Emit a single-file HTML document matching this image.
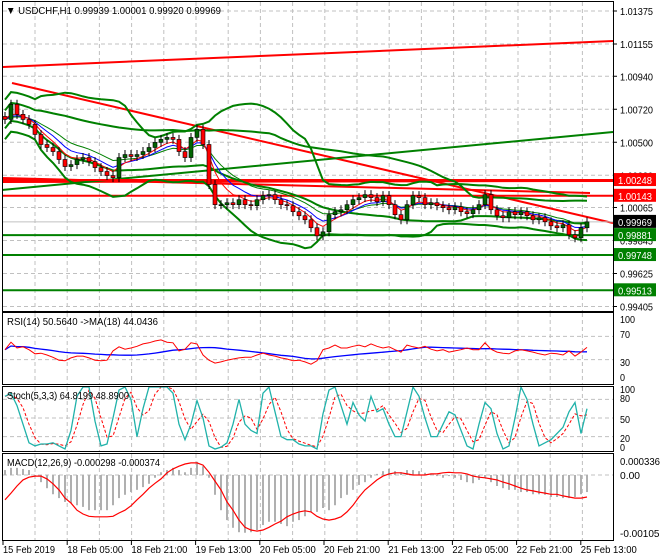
<!DOCTYPE html>
<html><head><meta charset="utf-8">
<style>
html,body{margin:0;padding:0;background:#fff;}
svg{display:block;font-family:"Liberation Sans",sans-serif;}
</style></head>
<body>
<svg id="chart" width="660" height="560" viewBox="0 0 660 560" xmlns="http://www.w3.org/2000/svg">
<rect x="0" y="0" width="660" height="560" fill="#fff"/>
<g id="grid"></g>
<g id="marks"></g>
<g id="frames" fill="none" stroke="#000" stroke-width="1">
<rect x="2.5" y="1.5" width="611" height="310"/>
<rect x="2.5" y="312.5" width="611" height="72"/>
<rect x="2.5" y="386.5" width="611" height="65"/>
<rect x="2.5" y="453.5" width="611" height="87"/>
</g>
<text x="6" y="14" font-size="10.5" fill="#000" textLength="215" lengthAdjust="spacingAndGlyphs">▼ USDCHF,H1  0.99939 1.00001 0.99920 0.99969</text>
<text x="7" y="325" font-size="10.5" fill="#000" textLength="151" lengthAdjust="spacingAndGlyphs">RSI(14) 50.5640  -&gt;MA(18) 44.0436</text>
<text x="7" y="399" font-size="10.5" fill="#000" textLength="122" lengthAdjust="spacingAndGlyphs">Stoch(5,3,3) 64.8199 48.8900</text>
<text x="7" y="466" font-size="10.5" fill="#000" textLength="153" lengthAdjust="spacingAndGlyphs">MACD(12,26,9) -0.000298 -0.000374</text>
<g id="axes" font-size="10.5" fill="#000"></g>
</svg>
<script>
// ---- data ----
const closes = [1.00652,1.00753,1.00686,1.00652,1.00619,1.00552,1.00485,1.00465,1.00438,1.00385,
1.00338,1.00351,1.00385,1.00398,1.00371,1.00331,1.00305,1.00278,1.00264,1.00398,
1.00418,1.00405,1.00418,1.00438,1.00465,1.00499,1.00519,1.00532,1.00519,1.00438,
1.00398,1.00532,1.00586,1.00485,1.00218,1.00084,1.00084,1.00097,1.00084,1.00117,
1.00084,1.00077,1.00117,1.00144,1.00151,1.00117,1.00084,1.00077,1.00037,1.00010,
0.99983,0.99930,0.99876,0.99903,1.00017,1.00037,1.00050,1.00084,1.00117,1.00131,
1.00151,1.00131,1.00104,1.00144,1.00084,1.00017,0.99983,1.00084,1.00144,1.00131,
1.00084,1.00097,1.00077,1.00064,1.00050,1.00070,1.00037,1.00024,1.00050,1.00084,
1.00151,1.00050,1.00010,0.99997,1.00037,1.00017,1.00037,1.00010,0.99983,0.99997,
0.99970,0.99943,0.99930,0.99950,0.99883,0.99863,0.99930,0.99969];
const rsiValues = [47,60,50,52,47,40,41,38,34,29, 28,33,36,36,33,29,28,29,45,52,
48,50,53,57,59,62,64,60,59,45, 48,59,57,38,29,24,26,29,31,33,
34,34,38,41,38,36,33,31,28,29, 26,22,28,47,50,55,50,50,53,55,
52,57,53,50,52,47,43,55,52,50, 53,48,45,47,43,45,47,50,47,47,
59,48,43,41,40,45,47,45,43,40, 38,41,40,38,45,36,43,51];
const stochK = [85,90,70,40,10,5,8,8,10,5, 0,30,85,100,100,45,5,8,50,95,
100,80,20,65,100,100,100,100,90,40, 15,40,78,50,5,0,3,10,40,80,
40,30,25,90,100,60,20,15,15,8, 5,5,0,57,95,100,70,40,75,55,
45,85,60,65,40,20,20,60,100,85, 50,20,20,40,60,55,30,5,0,40,
75,65,25,0,5,50,100,80,40,5, 10,15,25,35,60,75,25,65];
// MACD values in points (1 point = 0.00001)
const macdHist = [9,13,13,11,9,-2,-13,-24,-35,-42, -49,-51,-55,-58,-64,-64,-64,-64,-55,-42,
-36,-31,-27,-22,-16,-5,5,9,13,9, 5,13,24,16,-5,-36,-64,-82,-96,-104,
-105,-104,-100,-91,-85,-85,-89,-93,-85,-82, -75,-67,-67,-60,-64,-55,-42,-36,-27,-18,
-13,-5,2,7,11,7,5,9,9,7, 4,2,-2,-5,-2,-5,-9,-13,-15,-9,
-5,-13,-20,-24,-27,-27,-31,-31,-35,-35, -36,-40,-40,-42,-42,-40,-35,-31];
const macdSignal = [-45,-33,-20,-9,-4,-2,-2,-7,-16,-27, -42,-51,-64,-71,-75,-76,-76,-76,-75,-69,
-64,-56,-45,-35,-24,-15,-7,4,11,16, 20,22,22,18,5,-11,-27,-49,-64,-82,
-95,-100,-102,-100,-95,-89,-84,-76,-71,-67, -65,-67,-75,-80,-82,-80,-76,-67,-55,-40,
-27,-18,-9,-2,2,4,4,2,0,0, 0,2,2,4,5,4,4,2,-2,-4,
-5,-7,-9,-13,-16,-20,-24,-27,-29,-31, -33,-35,-35,-38,-40,-42,-42,-40];
const priceTicks = ["1.01375","1.01155","1.00940","1.00720","1.00500","1.00280","1.00065","0.99845","0.99625","0.99405"];
const priceTickValues = [1.01375,1.01155,1.00940,1.00720,1.00500,1.00280,1.00065,0.99845,0.99625,0.99405];
const timeLabels = ["15 Feb 2019","18 Feb 05:00","18 Feb 21:00","19 Feb 13:00","20 Feb 05:00","20 Feb 21:00","21 Feb 13:00","22 Feb 05:00","22 Feb 21:00","25 Feb 13:00"];
const levelPrices = [0.99881,0.99748,0.99513];
const redLevels = [1.00248,1.00143];
const lastPrice = 0.99969;

// ---- axes ----
const NS="http://www.w3.org/2000/svg";
const X = i => 5 + i*6;
const Y = p => 11 + (1.01375 - p)*15000;
const YR = v => 377 - v*0.58;
const YS = v => 449 - v*0.62;
const YM = v => 475 - v*0.55; // points
const grid=document.getElementById('grid'), marks=document.getElementById('marks'), axes=document.getElementById('axes');
function mk(tag, attrs, parent){const e=document.createElementNS(NS,tag);for(const k in attrs)e.setAttribute(k,attrs[k]);parent.appendChild(e);return e;}
function pathFrom(arr, yf){let d='';arr.forEach((v,i)=>{if(v==null)return;d+=(d?'L':'M')+X(i)+' '+yf(v).toFixed(1);});return d;}
function fit(t,len){t.setAttribute('textLength',len);t.setAttribute('lengthAdjust','spacingAndGlyphs');}

// grid
for(let k=0;k<19;k++){const x=35+k*32.2; if(x>612)break;
  [[2,311],[313,384],[387,451],[454,540]].forEach(r=>{
    const l=mk('line',{x1:x,x2:x,y1:r[0],y2:r[1],stroke:'#c0c0c0','stroke-dasharray':'4,3'},grid);
    
    
  });
}
priceTickValues.forEach((p,i)=>{const y=Y(p);
  const l=mk('line',{x1:3,x2:613,y1:y,y2:y,stroke:'#c0c0c0','stroke-dasharray':'4,3'},grid);
  
  
  const t=mk('text',{x:620,y:y+4},axes); t.textContent=priceTicks[i]; fit(t,33);
  
  
  mk('line',{x1:613,x2:617,y1:y,y2:y,stroke:'#000'},axes);
});
[70,30].forEach(v=>{const l=mk('line',{x1:3,x2:613,y1:YR(v),y2:YR(v),stroke:'#c0c0c0','stroke-dasharray':'4,3'},grid);
  
  });
[80,50,20].forEach(v=>{const l=mk('line',{x1:3,x2:613,y1:YS(v),y2:YS(v),stroke:'#c0c0c0','stroke-dasharray':'4,3'},grid);
  
  });
{const l=mk('line',{x1:3,x2:613,y1:YM(0),y2:YM(0),stroke:'#c0c0c0','stroke-dasharray':'4,3'},grid);
  
  }
const sideLabels=[["100",323],["70",338],["30",366],["0",381],["100",393],["80",402],["50",423],["20",442],["0",451],["0.000336",465],["0.00",479],["-0.001051",537]];
sideLabels.forEach(s=>{const t=mk('text',{x:620,y:s[1]},axes);t.textContent=s[0];fit(t,s[0].length*5);
  
  });
timeLabels.forEach((s,i)=>{const x=3+i*64.2;
  mk('line',{x1:x,x2:x,y1:540,y2:545,stroke:'#000'},axes);
  const t=mk('text',{x:x,y:553},axes);t.textContent=s;fit(t,i===0?52:56);
  
  });

// indicators derived
function sma(a,n,i){let s=0,c=0;for(let j=Math.max(0,i-n+1);j<=i;j++){s+=a[j];c++;}return s/c;}
function ema(a,n){const k=2/(n+1);let o=[],e=a[0];a.forEach((v,i)=>{e=i?v*k+e*(1-k):v;o.push(e);});return o;}
function bands(n,m){const up=[],lo=[];closes.forEach((c,i)=>{const s=Math.max(0,i-n+1);const w=closes.slice(s,i+1);const mu=w.reduce((a,b)=>a+b,0)/w.length;const sd=Math.sqrt(w.reduce((a,b)=>a+(b-mu)*(b-mu),0)/w.length);const sdm=Math.max(sd,0.0006);up.push(mu+m*sdm);lo.push(mu-m*sdm);});return [up,lo];}

const clip=mk('clipPath',{id:'mainclip'},marks);mk('rect',{x:3,y:2,width:610,height:309},clip);
const main=mk('g',{'clip-path':'url(#mainclip)'},marks);

// trend lines
function tl(x1,y1,x2,y2,c,w,name){const l=mk('line',{x1,y1,x2,y2,stroke:c,'stroke-width':w},main);
  
  }
tl(2,67,613,41,'#ff0000',2,'red-channel-top-line');
tl(12,83,613,223,'#ff0000',2,'red-descending-trendline');
tl(2,178,590,193,'#ff0000',2,'red-sloped-line');
tl(2,182,613,181,'#ff0000',2,'red-resistance-line');
tl(2,190,613,132,'#008000',2,'green-ascending-trendline');
redLevels.forEach(p=>{const l=mk('line',{x1:2,x2:613,y1:Y(p),y2:Y(p),stroke:'#ff0000','stroke-width':2},main);
  
  });
levelPrices.forEach(p=>{const l=mk('line',{x1:2,x2:613,y1:Y(p),y2:Y(p),stroke:'#008000','stroke-width':2},main);
  
  });
{const l=mk('line',{x1:2,x2:613,y1:Y(lastPrice),y2:Y(lastPrice),stroke:'#c0c0c0'},main);
  
  }

// bollinger bands
const [bu,bl]=bands(20,2.2);const [su,sl]=bands(45,1);
[[bu,'bb-upper'],[bl,'bb-lower'],[su,'slow-band-upper'],[sl,'slow-band-lower']].forEach(b=>{
  const p=mk('path',{d:pathFrom(b[0],Y),fill:'none',stroke:'#008000','stroke-width':2},main);
  
  
});
[[ema(closes,13),'#008000','ma-green'],[ema(closes,8),'#0000ff','ma-blue'],[ema(closes,5),'#ff0000','ma-red']].forEach(m=>{
  const p=mk('path',{d:pathFrom(m[0],Y),fill:'none',stroke:m[1],'stroke-width':1},main);
  
  
});
// candles
closes.forEach((c,i)=>{const o=i?closes[i-1]:c+0.0002;const hi=Math.max(o,c)+0.0003,lo=Math.min(o,c)-0.0003;
  const x=X(i);const g=mk('g',{},main);
  
  
  mk('line',{x1:x,x2:x,y1:Y(hi),y2:Y(lo),stroke:'#000'},g);
  const top=Math.min(Y(o),Y(c)),h=Math.max(1,Math.abs(Y(o)-Y(c)));
  mk('rect',{x:x-2,y:top,width:4,height:h,fill:c>=o?'#006400':'#ff0000',stroke:'#000','stroke-width':0.6},g);
});
// price tags
function tag(p,bg,name){const y=Y(p);const r=mk('rect',{x:614,y:y-7,width:42,height:13,fill:bg},axes);
  
  
  const t=mk('text',{x:618,y:y+4,fill:'#fff'},axes);t.textContent=p.toFixed(5);fit(t,34);
  
  }
redLevels.forEach(p=>tag(p,'#ff0000','red-level-tag'));
levelPrices.forEach(p=>tag(p,'#008000','green-level-tag'));
tag(lastPrice,'#000','last-price-tag');

// RSI
const rsiMA=rsiValues.map((v,i)=>sma(rsiValues,18,i));
{const p=mk('path',{d:pathFrom(rsiMA,YR),fill:'none',stroke:'#0000ff','stroke-width':1.3},marks);


const q=mk('path',{d:pathFrom(rsiValues,YR),fill:'none',stroke:'#ff0000','stroke-width':1},marks);

}
// Stoch
const stochD=stochK.map((v,i)=>sma(stochK,3,i));
{const p=mk('path',{d:pathFrom(stochD,YS),fill:'none',stroke:'#ff0000','stroke-width':1,'stroke-dasharray':'3,2'},marks);


const q=mk('path',{d:pathFrom(stochK,YS),fill:'none',stroke:'#20b2aa','stroke-width':1.3},marks);

}
// MACD
macdHist.forEach((v,i)=>{const y0=YM(0),y=YM(v);
  const b=mk('line',{x1:X(i),x2:X(i),y1:y0,y2:y,stroke:'#b0b0b0','stroke-width':2},marks);
  
  });
{const p=mk('path',{d:pathFrom(macdSignal,YM),fill:'none',stroke:'#ff0000','stroke-width':1.2},marks);

}
</script>
</body></html>
